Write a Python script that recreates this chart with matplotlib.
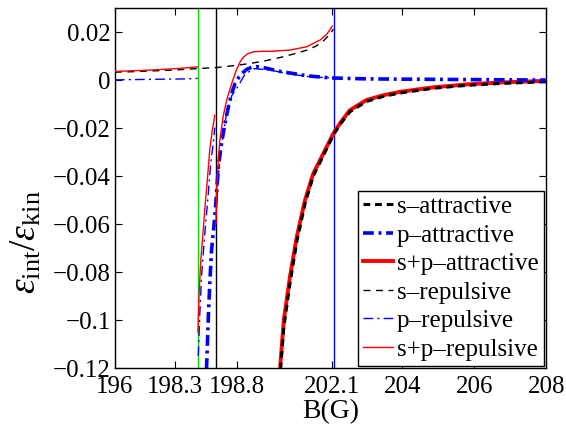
import numpy as np
import matplotlib
matplotlib.use('Agg')
import matplotlib.pyplot as plt

# resonance positions (vertical markers)
res_green = 198.3
res_black = 198.8
res_blue = 202.1

# s-wave, attractive branch (thick black dashed) and s+p attractive (thick red)
B_att = [200.5, 200.59, 200.7, 200.87, 201.06, 201.29, 201.52, 201.8, 202.08, 202.3,
         202.54, 203.0, 203.47, 203.93, 204.86, 205.79, 206.72, 208.0]
s_att = [-0.13, -0.124, -0.103, -0.085, -0.0675, -0.0515, -0.040, -0.0315, -0.0228, -0.0178,
         -0.0132, -0.0089, -0.0068, -0.0054, -0.0034, -0.0022, -0.0014, -0.0007]
sp_att = [-0.127, -0.121, -0.100, -0.082, -0.0653, -0.050, -0.0389, -0.0306, -0.0222, -0.0172,
          -0.0125, -0.0083, -0.0063, -0.0049, -0.0030, -0.0018, -0.0010, -0.0003]

# p-wave, attractive branch (thick blue dash-dot)
B_patt = [198.53, 198.55, 198.6, 198.64, 198.69, 198.78, 198.88, 198.95, 199.05, 199.16,
          199.25, 199.34, 199.45, 199.57, 199.67, 199.8, 199.95, 200.1, 200.4, 200.6,
          201.06, 201.34, 201.99, 202.5, 203.0, 203.9, 205.0, 206.0, 207.0, 208.0]
p_att = [-0.13, -0.12, -0.0986, -0.0847, -0.0708, -0.057, -0.036, -0.028, -0.019, -0.011,
         -0.0055, -0.0015, 0.0012, 0.0032, 0.0045, 0.0053, 0.0056, 0.0053, 0.0043, 0.0036,
         0.0025, 0.0018, 0.0009, 0.0007, 0.0005, 0.0004, 0.0003, 0.0002, 0.0001, 0.0]

# s-wave, repulsive branch (thin black dashed)
B_srep = [196.0, 196.5, 197.0, 197.5, 198.0, 198.3, 198.8, 199.3, 199.76, 200.2, 200.68,
          201.0, 201.35, 201.6, 201.8, 201.95, 202.08]
s_rep = [0.0033, 0.0035, 0.0038, 0.0041, 0.0045, 0.0048, 0.0052, 0.0060, 0.0069, 0.0081,
         0.0097, 0.0110, 0.0125, 0.0142, 0.0163, 0.0186, 0.0212]

# s+p repulsive (thin red), three pieces
B_sprep1 = [196.0, 196.5, 197.0, 197.5, 198.0, 198.3]
sp_rep1 = [0.0036, 0.0039, 0.0042, 0.0046, 0.0051, 0.0055]
B_sprep2 = [198.31, 198.34, 198.39, 198.45, 198.5, 198.57, 198.64, 198.71, 198.78]
sp_rep2 = [-0.105, -0.09, -0.075, -0.064, -0.054, -0.042, -0.029, -0.021, -0.0146]
B_sprep3 = [198.81, 198.83, 198.88, 198.92, 199.01, 199.11, 199.25, 199.38, 199.48, 199.57,
            199.7, 199.85, 200.1, 200.32, 200.87, 201.34, 201.71, 201.9, 202.05]
sp_rep3 = [-0.06, -0.046, -0.033, -0.025, -0.0153, -0.0083, -0.0014, 0.0042, 0.0075, 0.0095,
           0.0110, 0.0118, 0.0120, 0.0120, 0.0125, 0.0139, 0.0167, 0.0192, 0.0225]

# p-wave repulsive (thin blue dash-dot), three pieces
B_prep1 = [196.0, 197.0, 198.0, 198.3]
p_rep1 = [0.0001, 0.0003, 0.0005, 0.0007]
B_prep2 = [198.32, 198.36, 198.41, 198.47, 198.53, 198.6, 198.67, 198.74, 198.78]
p_rep2 = [-0.115, -0.098, -0.082, -0.07, -0.059, -0.047, -0.034, -0.026, -0.0198]
B_prep3 = [198.84, 198.9, 199.0, 199.1, 199.25, 199.43, 199.6, 199.85, 200.3, 200.9,
           201.5, 202.05]
p_rep3 = [-0.05, -0.036, -0.024, -0.0145, -0.0065, -0.0025, 0.002, 0.0048, 0.0042, 0.0025,
          0.0012, 0.001]

# tick labels sit where the original figure drew them
xticks = [196, 197.67, 199.4, 202.04, 204, 206, 208]
xticklabels = ['196', '198.3', '198.8', '202.1', '204', '206', '208']
yticks = [0.02, 0, -0.02, -0.04, -0.06, -0.08, -0.1, -0.12]
yticklabels = ['0.02', '0', '\u22120.02', '\u22120.04', '\u22120.06', '\u22120.08',
               '\u22120.1', '\u22120.12']

plt.rcParams['font.family'] = ['Liberation Serif', 'DejaVu Serif']
plt.rcParams['mathtext.fontset'] = 'custom'
plt.rcParams['mathtext.rm'] = 'Liberation Serif'
plt.rcParams['mathtext.it'] = 'Liberation Serif:italic'

fig = plt.figure(figsize=(5.66, 4.26), dpi=100)
ax = fig.add_axes([0.203, 0.136, 0.762, 0.845])

thick_dash = (0, (2.2, 1.6))
thin_dash = (0, (5, 4))
thick_dd = (0, (3.0, 1.3, 0.8, 1.3))
thin_dd = (0, (7, 3, 1.5, 3))

# vertical markers
ax.axvline(res_green, color='#00e000', lw=1.0, zorder=1)
ax.axvline(res_black, color='black', lw=1.0, zorder=1)
ax.axvline(res_blue, color='blue', lw=1.0, zorder=1)

ax.plot(B_att, s_att, color='black', lw=2.2, ls=thick_dash, label='s\u2013attractive', zorder=3)
ax.plot(B_patt, p_att, color='blue', lw=2.6, ls=thick_dd, label='p\u2013attractive', zorder=3)
ax.plot(B_att, sp_att, color='red', lw=2.8, label='s+p\u2013attractive', zorder=2)

ax.plot(B_srep, s_rep, color='black', lw=1.0, ls=thin_dash, label='s\u2013repulsive', zorder=4)
ax.plot(B_prep1, p_rep1, color='blue', lw=1.0, ls=thin_dd, label='p\u2013repulsive', zorder=4)
ax.plot(B_prep2, p_rep2, color='blue', lw=1.0, ls=thin_dd, zorder=4)
ax.plot(B_prep3, p_rep3, color='blue', lw=1.0, ls=thin_dd, zorder=4)
ax.plot(B_sprep1, sp_rep1, color='red', lw=1.0, label='s+p\u2013repulsive', zorder=4)
ax.plot(B_sprep2, sp_rep2, color='red', lw=1.0, zorder=4)
ax.plot(B_sprep3, sp_rep3, color='red', lw=1.0, zorder=4)

ax.set_xlim(196, 208)
ax.set_ylim(-0.12, 0.03)
ax.set_xticks(xticks)
ax.set_xticklabels(xticklabels)
ax.set_yticks(yticks)
ax.set_yticklabels(yticklabels)
ax.tick_params(direction='in', top=True, right=True, length=5, width=0.8, labelsize=18)
ax.tick_params(axis='x', pad=6)
ax.tick_params(axis='y', pad=3)
for s in ax.spines.values():
    s.set_linewidth(1.0)

ax.set_xlabel('B(G)', fontsize=20)
ax.xaxis.set_label_coords(0.5, -0.14, transform=ax.transAxes)
ax.xaxis.label.set_va('baseline')
ax.set_ylabel(r'$\varepsilon_{\rm int}/\varepsilon_{\rm kin}$', fontsize=27)
ax.yaxis.set_label_coords(-0.165, 0.35)

leg = ax.legend(loc='lower right', fontsize=18, frameon=True, fancybox=False,
                edgecolor='black', borderaxespad=0.1, handlelength=1.2,
                handletextpad=0.15, labelspacing=0.24, borderpad=0.2)
leg.get_frame().set_linewidth(1.0)
leg.get_frame().set_alpha(1)

fig.savefig('out.png', dpi=100)
